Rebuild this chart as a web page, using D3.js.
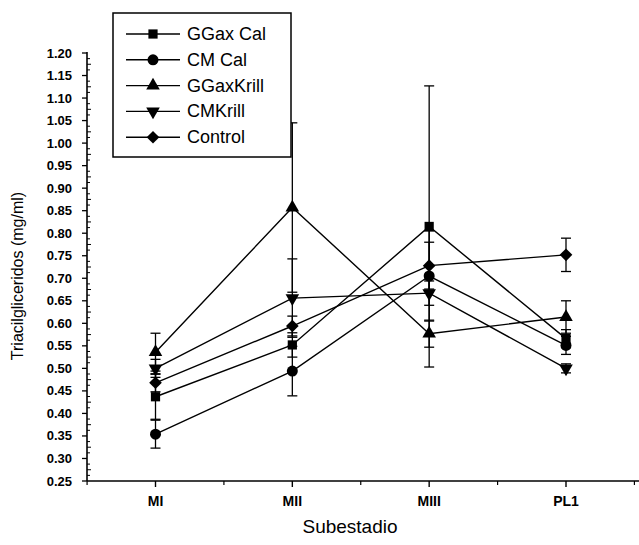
<!DOCTYPE html>
<html><head><meta charset="utf-8">
<script src="https://cdn.jsdelivr.net/npm/d3@7"></script>
<style>
html,body{margin:0;padding:0;background:#fff;}
text{font-family:"Liberation Sans",Arial,sans-serif;fill:#000;}
</style></head>
<body>
<svg id="chart" width="639" height="545"></svg>
<script>
const categories = ["MI","MII","MIII","PL1"];
const seriesNames = ["GGax Cal","CM Cal","GGaxKrill","CMKrill","Control"];
const ggaxCal     = [0.437, 0.552, 0.815, 0.566];
const cmCal       = [0.354, 0.494, 0.705, 0.551];
const ggaxKrill   = [0.536, 0.857, 0.577, 0.614];
const cmKrill     = [0.500, 0.656, 0.667, 0.500];
const control     = [0.468, 0.594, 0.728, 0.752];
const ggaxCalErr  = [0.050, 0.027, 0.312, 0.020];
const cmCalErr    = [0.031, 0.055, 0.100, 0.020];
const ggaxKrillErr= [0.042, 0.188, 0.030, 0.036];
const cmKrillErr  = [0.020, 0.087, 0.027, 0.010];
const controlErr  = [0.020, 0.022, 0.052, 0.037];
const yTicks = [0.25,0.30,0.35,0.40,0.45,0.50,0.55,0.60,0.65,0.70,0.75,0.80,0.85,0.90,0.95,1.00,1.05,1.10,1.15,1.20];

const series = [
  {name:seriesNames[0], v:ggaxCal, e:ggaxCalErr, sym:"square"},
  {name:seriesNames[1], v:cmCal, e:cmCalErr, sym:"circle"},
  {name:seriesNames[2], v:ggaxKrill, e:ggaxKrillErr, sym:"triangle"},
  {name:seriesNames[3], v:cmKrill, e:cmKrillErr, sym:"down"},
  {name:seriesNames[4], v:control, e:controlErr, sym:"diamond"}
];

const svg = d3.select("#chart");
const x0 = 87, yBase = 481;
const x = d3.scaleLinear().domain([0, 3]).range([155.5, 566]);
const y = d3.scaleLinear().domain([0.25, 1.20]).range([481, 53]);

function symPath(s){
  if(s==="square") return d3.symbol(d3.symbolSquare, 85)();
  if(s==="circle") return d3.symbol(d3.symbolCircle, 95)();
  if(s==="triangle") return d3.symbol(d3.symbolTriangle, 80)();
  if(s==="down") return d3.symbol(d3.symbolTriangle, 80)();
  if(s==="diamond") return d3.symbol(d3.symbolSquare, 80)();
}
function symTransform(s){
  if(s==="down") return " rotate(180)";
  if(s==="diamond") return " rotate(45)";
  return "";
}

const g = svg.append("g");
g.append("line").attr("x1",x0).attr("x2",x0).attr("y1",y(1.20)-1).attr("y2",yBase)
  .attr("stroke","#000").attr("stroke-width",1.6);
g.append("line").attr("x1",x0).attr("x2",639).attr("y1",yBase).attr("y2",yBase)
  .attr("stroke","#000").attr("stroke-width",1.6);

yTicks.forEach(t=>{
  g.append("line").attr("x1",x0-5).attr("x2",x0).attr("y1",y(t)).attr("y2",y(t))
    .attr("stroke","#000").attr("stroke-width",1.3);
  g.append("text").attr("x",x0-15).attr("y",y(t)+4.5).attr("text-anchor","end")
    .attr("font-size",13).attr("font-weight","bold").text(t.toFixed(2));
});
d3.range(0, 19).forEach(i=>{
  [0.0125,0.025,0.0375].forEach(o=>{
    const t = 0.25 + i*0.05 + o;
    g.append("line").attr("x1",x0).attr("x2",x0+(o===0.025?4:3)).attr("y1",y(t)).attr("y2",y(t))
      .attr("stroke","#000").attr("stroke-width",1);
  });
});

categories.forEach((c,i)=>{
  g.append("line").attr("x1",x(i)).attr("x2",x(i)).attr("y1",yBase).attr("y2",yBase+6)
    .attr("stroke","#000").attr("stroke-width",1.4);
  g.append("text").attr("x",x(i)).attr("y",yBase+25).attr("text-anchor","middle")
    .attr("font-size",14).attr("font-weight","bold").text(c);
});
[-0.5,0.5,1.5,2.5,3.5].forEach(t=>{
  if(x(t)<x0) return;
  g.append("line").attr("x1",x(t)).attr("x2",x(t)).attr("y1",yBase).attr("y2",yBase+4)
    .attr("stroke","#000").attr("stroke-width",1.2);
});

svg.append("text").attr("x",350).attr("y",533).attr("text-anchor","middle")
  .attr("font-size",19).text("Subestadio");
svg.append("text").attr("transform","translate(23,276) rotate(-90)").attr("text-anchor","middle")
  .attr("font-size",16).text("Triacilgliceridos (mg/ml)");

const eb = svg.append("g");
series.forEach(s=>{
  s.v.forEach((v,i)=>{
    const e = s.e[i], cx = x(i);
    eb.append("line").attr("x1",cx).attr("x2",cx).attr("y1",y(v-e)).attr("y2",y(v+e))
      .attr("stroke","#000").attr("stroke-width",1.3);
    [v-e, v+e].forEach(t=>{
      eb.append("line").attr("x1",cx-5).attr("x2",cx+5).attr("y1",y(t)).attr("y2",y(t))
        .attr("stroke","#000").attr("stroke-width",1.3);
    });
  });
});

const line = d3.line().x((d,i)=>x(i)).y(d=>y(d));
series.forEach(s=>{
  svg.append("path").attr("d",line(s.v)).attr("fill","none")
    .attr("stroke","#000").attr("stroke-width",1.4);
});
series.forEach(s=>{
  s.v.forEach((v,i)=>{
    svg.append("path").attr("d",symPath(s.sym))
      .attr("transform",`translate(${x(i)},${y(v)})`+symTransform(s.sym))
      .attr("fill","#000");
  });
});

const lg = svg.append("g");
lg.append("rect").attr("x",113).attr("y",13).attr("width",178).attr("height",144)
  .attr("fill","#fff").attr("stroke","#000").attr("stroke-width",1.5);
series.forEach((s,k)=>{
  const ly = 34 + k*25.8;
  lg.append("line").attr("x1",126).attr("x2",180).attr("y1",ly).attr("y2",ly)
    .attr("stroke","#000").attr("stroke-width",1.4);
  lg.append("path").attr("d",symPath(s.sym))
    .attr("transform",`translate(153,${ly})`+symTransform(s.sym)).attr("fill","#000");
  lg.append("text").attr("x",187).attr("y",ly+6).attr("font-size",18).text(s.name);
});
</script>
</body></html>
